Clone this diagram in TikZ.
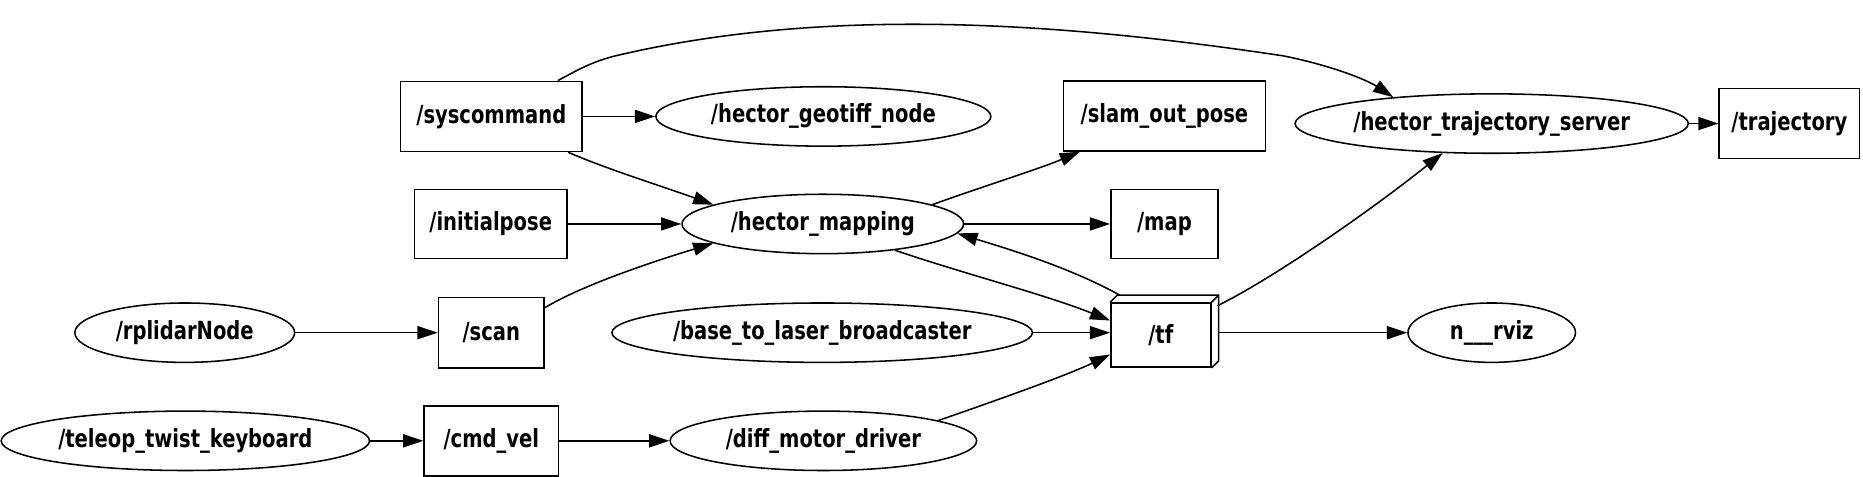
\documentclass[tikz,border=0pt]{standalone}
\usepackage{fontspec}
\setmainfont{DejaVu Sans Condensed}[FakeStretch=0.87]
\usetikzlibrary{arrows.meta,shapes.geometric}
\newcommand{\nlabel}[1]{\makebox[0pt]{\bfseries #1}}

\begin{document}
\begin{tikzpicture}[
        x=1pt, y=-1pt,
        font=\fontsize{21}{23}\selectfont,
        line width=1.3pt,
        topic/.style={draw, rectangle, inner sep=0pt, minimum height=59pt},
        gnode/.style={draw, ellipse, inner sep=0pt, minimum height=50pt},
        arr/.style={-{Triangle[length=17pt, width=11pt]}}
    ]
        \useasboundingbox (0,0) rectangle (1568,401);
        % topics and nodes, row by row
        \node[topic, minimum width=153pt] (syscmd) at (413.5,98) {\nlabel{/syscommand}};
        \node[gnode, minimum width=282pt] (geotiff) at (693,98) {\nlabel{/hector\_geotiff\_node}};
        \node[topic, minimum width=170pt] (slampose) at (980,97.5) {\nlabel{/slam\_out\_pose}};
        \node[gnode, minimum width=331pt] (trajsrv) at (1255.5,104) {\nlabel{/hector\_trajectory\_server}};
        \node[topic, minimum width=118pt] (traj) at (1506,104) {\nlabel{/trajectory}};
        \node[topic, minimum width=128pt, minimum height=58pt] (initpose) at (413,188.5) {\nlabel{/initialpose}};
        \node[gnode, minimum width=237pt] (hmap) at (692.5,188.5) {\nlabel{/hector\_mapping}};
        \node[topic, minimum width=90pt, minimum height=58pt] (map) at (980,188.5) {\nlabel{/map}};
        \node[gnode, minimum width=185pt] (rplidar) at (155.5,280) {\nlabel{/rplidarNode}};
        \node[topic, minimum width=89pt] (scan) at (413.5,280) {\nlabel{/scan}};
        \node[gnode, minimum width=354pt] (base) at (692,280) {\nlabel{/base\_to\_laser\_broadcaster}};
        \node[topic, minimum width=84pt, minimum height=54pt] (tf) at (977,282) {\nlabel{/tf}};
        \node[gnode, minimum width=141pt] (rviz) at (1255.5,280) {\nlabel{n\_\_\_rviz}};
        \node[gnode, minimum width=310pt] (teleop) at (156,371) {\nlabel{/teleop\_twist\_keyboard}};
        \node[topic, minimum width=113pt] (cmdvel) at (413.5,371) {\nlabel{/cmd\_vel}};
        \node[gnode, minimum width=258pt] (diff) at (693,371) {\nlabel{/diff\_motor\_driver}};
        % 3d faces of /tf
        \draw (tf.north west) -- ++(6,-6) -- ([shift={(6,-6)}]tf.north east) -- ([shift={(6,-6)}]tf.south east) -- (tf.south east)
              (tf.north east) -- ++(6,-6);

        \draw[arr] (syscmd.east) -- (geotiff.west);
        \draw[arr] (syscmd.-25.6) .. controls (510,142) and (555,156) .. (hmap.170);
        \draw[arr] ([xshift=56pt]syscmd.north) .. controls (486,59) and (498,52) .. (518,47)
                   .. controls (700,4) and (900,20) .. (1080,47)
                   .. controls (1120,55) and (1150,67) .. (trajsrv.165);
        \draw[arr] (initpose.east) -- (hmap.west);
        \draw[arr] (scan.25.8) .. controls (490,240) and (550,220) .. (hmap.190);
        \draw[arr] (hmap.10.6) .. controls (830,156) and (875,142) .. (slampose.203.5);
        \draw[arr] (hmap.east) -- (map.west);
        \draw[arr] (hmap.-20) .. controls (810,230) and (880,248) .. (tf.164);
        \draw[arr] ([shift={(8pt,6pt)}]tf.north west) .. controls (900,225) and (850,210) .. (hmap.-4);
        \draw[arr] (base.east) -- (base.east -| tf.west);
        \draw[arr] (diff.10.8) .. controls (850,333) and (900,315) .. (tf.201);
        \draw[arr] ([shift={(5pt,-3pt)}]tf.north east) .. controls (1070,235) and (1150,180) .. (trajsrv.211);
        \draw[arr] ([xshift=6pt]tf.east |- rviz.west) -- (rviz.west);
        \draw[arr] (trajsrv.east) -- (traj.west);
        \draw[arr] (rplidar.east) -- (scan.west);
        \draw[arr] (teleop.east) -- (cmdvel.west);
        \draw[arr] (cmdvel.east) -- (diff.west);
    \end{tikzpicture}
\end{document}
